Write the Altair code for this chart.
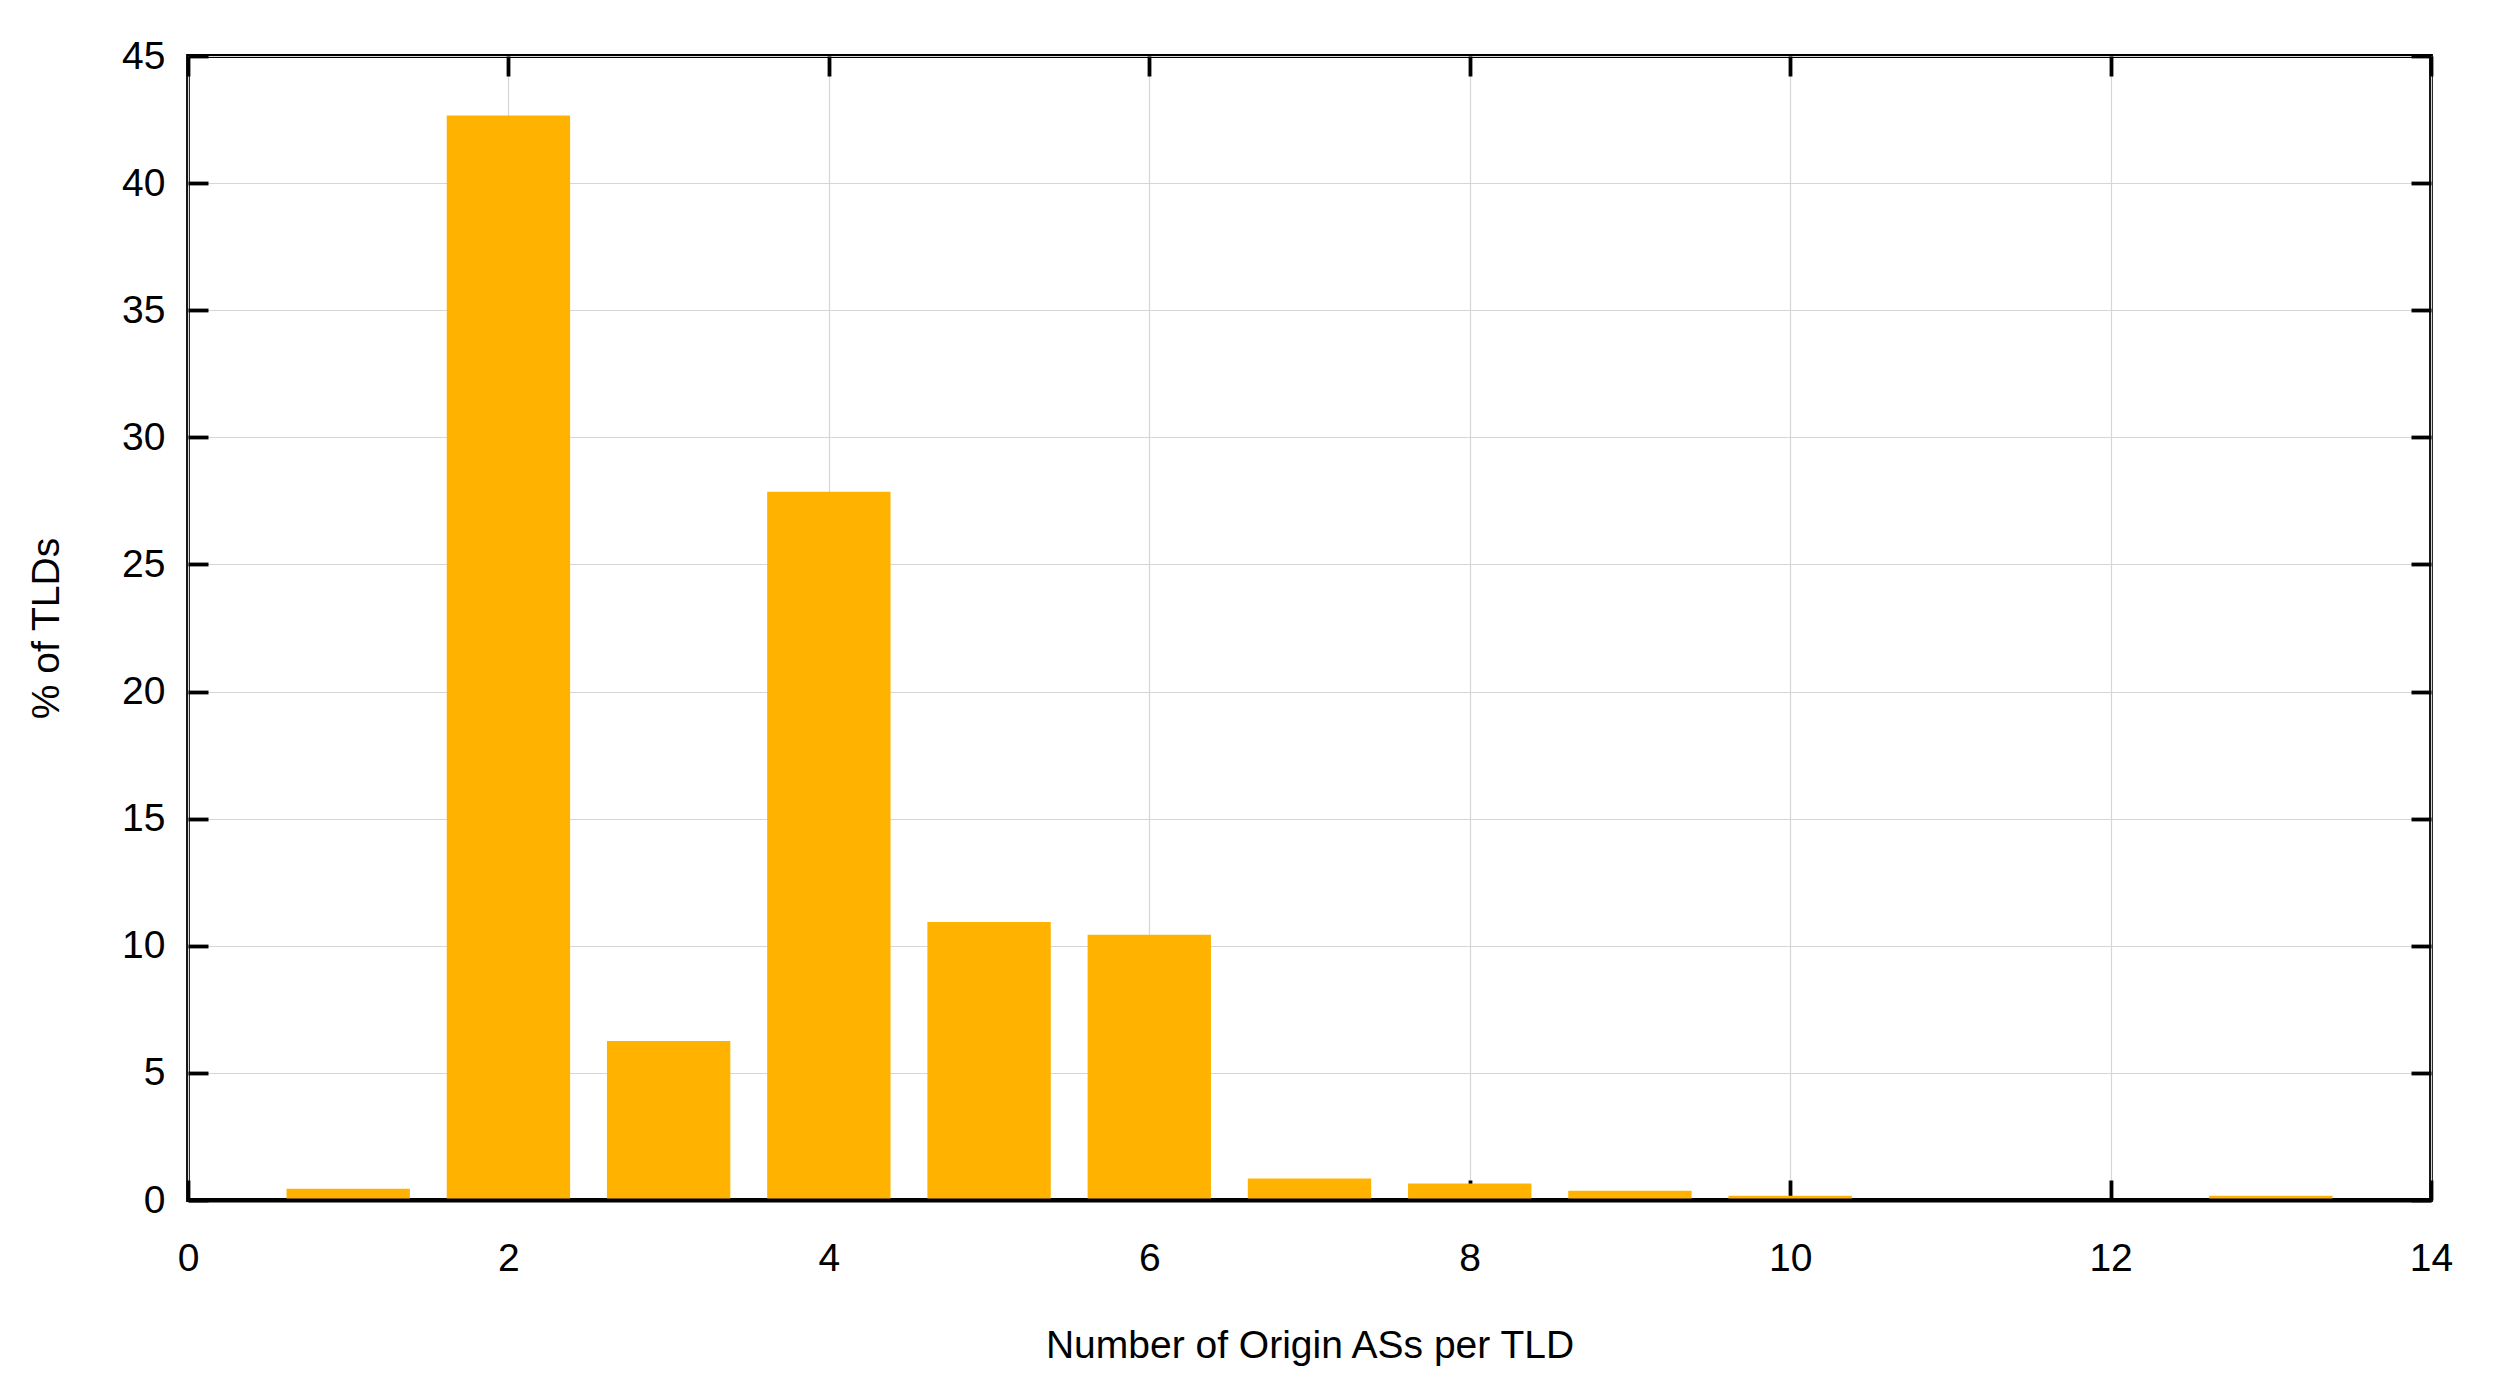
import altair as alt
import pandas as pd

# Data
origin_as_counts = [1, 2, 3, 4, 5, 6, 7, 8, 9, 10, 13]
pct_of_tlds = [0.44, 42.66, 6.25, 27.86, 10.94, 10.43, 0.85, 0.65, 0.36, 0.17, 0.17]
x_tick_values = [0, 2, 4, 6, 8, 10, 12, 14]
y_tick_values = [0, 5, 10, 15, 20, 25, 30, 35, 40, 45]

df = pd.DataFrame({"n": origin_as_counts, "pct": pct_of_tlds})

BAR_HALF = 0.385
FONT = "Liberation Sans"
FS = 39
TICK = 20
LINE_W = 3.8
BAR_COLOR = "#FFB300"
GRID_COLOR = "#d6d6d6"

xscale = alt.Scale(domain=[0, 14], nice=False, zero=False, padding=0)
yscale = alt.Scale(domain=[0, 45], nice=False, padding=0)

base = alt.Chart(df).transform_calculate(
    lo=f"datum.n - {BAR_HALF}", hi=f"datum.n + {BAR_HALF}", zero="0"
)

common_axis = dict(
    labelFont=FONT, labelFontSize=FS, labelColor="black",
    titleFont=FONT, titleFontSize=FS, titleFontWeight="normal", titleColor="black",
    tickColor="black", tickWidth=LINE_W, tickSize=TICK, offset=-TICK,
    domain=False, labelFlush=False, labelOverlap=False,
    gridColor=GRID_COLOR, gridWidth=1.2, zindex=0,
)

bars = base.mark_rect(color=BAR_COLOR, opacity=1).encode(
    x=alt.X("lo:Q", scale=xscale,
            axis=alt.Axis(orient="bottom", values=x_tick_values, grid=True,
                          title="Number of Origin ASs per TLD",
                          labelPadding=39, titlePadding=48, **common_axis)),
    x2="hi:Q",
    y=alt.Y("pct:Q", scale=yscale,
            axis=alt.Axis(orient="left", values=y_tick_values, grid=True,
                          title="% of TLDs",
                          labelPadding=23, titlePadding=55, **common_axis)),
    y2="zero:Q",
)

mirror_axis = dict(
    tickColor="black", tickWidth=LINE_W, tickSize=TICK, offset=-TICK,
    domain=False, labels=False, grid=False, title="", zindex=0,
)

mirror = base.mark_point(opacity=0).encode(
    x=alt.X("n:Q", scale=xscale,
            axis=alt.Axis(orient="top", values=x_tick_values, **mirror_axis)),
    y=alt.Y("pct:Q", scale=yscale,
            axis=alt.Axis(orient="right", values=y_tick_values, **mirror_axis)),
)

frame_bottom = base.mark_point(opacity=0).encode(
    x=alt.X("n:Q", scale=xscale,
            axis=alt.Axis(orient="bottom", domain=True, domainColor="black",
                          domainWidth=LINE_W, ticks=False, labels=False,
                          grid=False, title="", zindex=1)),
    y=alt.Y("pct:Q", scale=yscale, axis=None),
)

chart = (
    alt.layer(bars, mirror, frame_bottom)
    .resolve_axis(x="independent", y="independent")
    .properties(
        width=2243,
        height=1144,
        autosize="none",
        padding={"left": 180, "top": 48, "right": 60, "bottom": 180},
        background="white",
    )
    .configure_view(stroke="black", strokeWidth=LINE_W)
)

chart.save("out.html", embed_options={"renderer": "svg", "actions": False})
